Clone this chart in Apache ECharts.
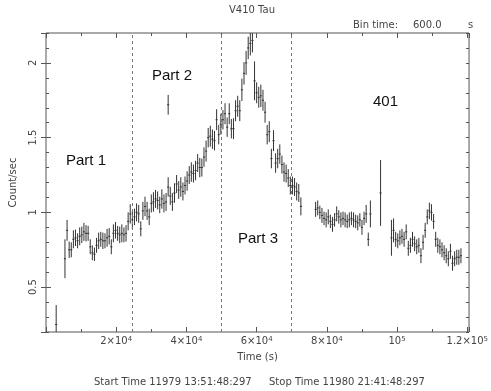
<!DOCTYPE html>
<html>
<head>
<meta charset="utf-8">
<title>V410 Tau</title>
<script src="https://cdn.jsdelivr.net/npm/echarts@6/dist/echarts.min.js"></script>
<style>
  html, body { margin: 0; padding: 0; background: #fff; }
  #chart { width: 491px; height: 391px; }
</style>
</head>
<body>
<div id="chart"></div>
<script>
const binTime = 600;

// single bins standing apart from the runs
const loneTimes = [2900, 34800, 95300];
const loneRates = [0.25, 1.72, 1.13];
const loneErrors = [0.13, 0.066, 0.22];

// run 1: rise, flare and decay (600 s bins)
const riseStart = 5400;
const riseRates = [
  0.69, 0.88, 0.75, 0.75, 0.82, 0.83, 0.81, 0.84, 0.85, 0.87,
  0.86, 0.86, 0.77, 0.73, 0.72, 0.78, 0.81, 0.82, 0.81, 0.81,
  0.83, 0.84, 0.77, 0.86, 0.88, 0.86, 0.85, 0.86, 0.85, 0.86,
  0.94, 0.99, 0.95, 0.97, 1.00, 0.99, 0.89, 1.01, 1.04, 1.01,
  0.97, 1.06, 1.07, 1.09, 1.08, 1.05, 1.09, 1.06, 1.07, 1.17,
  1.11, 1.07, 1.13, 1.19, 1.15, 1.17, 1.14, 1.18, 1.21, 1.25,
  1.27, 1.26, 1.28, 1.33, 1.30, 1.30, 1.37, 1.41, 1.50, 1.51,
  1.49, 1.48, 1.62, 1.52, 1.59, 1.62, 1.66, 1.57, 1.66, 1.56,
  1.56, 1.68, 1.71, 1.68, 1.82, 1.93, 2.00, 2.10, 2.13, 2.15,
  1.88, 1.80, 1.77, 1.78, 1.75, 1.67, 1.52, 1.54, 1.36, 1.48,
  1.33, 1.36, 1.39, 1.32, 1.27, 1.26, 1.23, 1.18, 1.18, 1.17,
  1.14, 1.13, 1.04
];
const riseErrors = [
  0.13, 0.07, 0.055, 0.05, 0.06, 0.055, 0.05, 0.06, 0.055, 0.06,
  0.055, 0.05, 0.05, 0.05, 0.045, 0.05, 0.055, 0.05, 0.055, 0.05,
  0.06, 0.055, 0.05, 0.06, 0.055, 0.05, 0.055, 0.06, 0.05, 0.055,
  0.06, 0.065, 0.06, 0.055, 0.06, 0.06, 0.05, 0.06, 0.065, 0.06,
  0.055, 0.06, 0.065, 0.06, 0.06, 0.055, 0.065, 0.06, 0.06, 0.065,
  0.06, 0.06, 0.065, 0.06, 0.06, 0.065, 0.06, 0.06, 0.065, 0.06,
  0.065, 0.06, 0.065, 0.06, 0.065, 0.06, 0.065, 0.07, 0.065, 0.07,
  0.065, 0.065, 0.07, 0.065, 0.07, 0.065, 0.07, 0.065, 0.07, 0.065,
  0.07, 0.07, 0.07, 0.07, 0.075, 0.075, 0.08, 0.075, 0.08, 0.08,
  0.13, 0.07, 0.07, 0.075, 0.07, 0.07, 0.065, 0.07, 0.065, 0.07,
  0.065, 0.065, 0.065, 0.06, 0.065, 0.06, 0.06, 0.06, 0.06, 0.06,
  0.06, 0.06, 0.06
];

// run 2: plateau after the gap
const plateauStart = 76800;
const plateauRates = [
  1.02, 1.03, 1.00, 0.98, 0.96, 0.95, 0.97, 0.94, 0.92, 0.95,
  0.99, 0.97, 0.95, 0.96, 0.95, 0.94, 0.95, 0.96, 0.95, 0.94,
  0.93, 0.95, 0.90, 0.96, 0.99, 0.82, 0.99
];
const plateauErrors = [
  0.05, 0.05, 0.045, 0.05, 0.045, 0.05, 0.05, 0.045, 0.05, 0.045,
  0.05, 0.045, 0.05, 0.045, 0.05, 0.045, 0.05, 0.045, 0.05, 0.045,
  0.05, 0.045, 0.05, 0.045, 0.06, 0.045, 0.09
];

// run 3: tail with the small second bump
const tailStart = 98400;
const tailRates = [
  0.83, 0.88, 0.82, 0.81, 0.83, 0.84, 0.82, 0.87, 0.76, 0.78,
  0.82, 0.79, 0.77, 0.78, 0.71, 0.80, 0.88, 0.97, 1.01, 1.00,
  0.94, 0.82, 0.78, 0.77, 0.75, 0.73, 0.71, 0.69, 0.74, 0.66,
  0.69, 0.70, 0.70, 0.71
];
const tailErrors = [
  0.12, 0.08, 0.05, 0.05, 0.05, 0.05, 0.05, 0.05, 0.05, 0.05,
  0.05, 0.05, 0.05, 0.05, 0.05, 0.05, 0.05, 0.05, 0.055, 0.055,
  0.05, 0.05, 0.05, 0.05, 0.05, 0.05, 0.05, 0.05, 0.05, 0.05,
  0.05, 0.05, 0.05, 0.05
];

const partBounds = [24600, 50000, 70000];
const timeTicks = [20000, 40000, 60000, 80000, 100000, 120000];
const rateTicks = [0.5, 1, 1.5, 2];

const labelFont = 'DejaVu Sans';
const labelColor = '#444';
const frameColor = '#555';

const binsFrom = (start, rates, errors) =>
  rates.map((r, i) => [start + i * binTime, r, errors[i] ?? 0.06]);

const bins = [
  ...loneTimes.map((t, i) => [t, loneRates[i], loneErrors[i]]),
  ...binsFrom(riseStart, riseRates, riseErrors),
  ...binsFrom(plateauStart, plateauRates, plateauErrors),
  ...binsFrom(tailStart, tailRates, tailErrors),
];

const timeLabel = (v) => {
  if (!timeTicks.includes(v)) return '';
  const exp = Math.floor(Math.log10(v));
  const mant = Math.round(v / Math.pow(10, exp) * 10) / 10;
  return mant === 1 ? '10{sup|' + exp + '}' : mant + '×10{sup|' + exp + '}';
};
const rateLabel = (v) => (rateTicks.some((r) => Math.abs(r - v) < 1e-6) ? String(v) : '');

const renderBin = (params, api) => {
  const t = api.value(0);
  const r = api.value(1);
  const e = api.value(2);
  const hi = api.coord([t, r + e]);
  const lo = api.coord([t, r - e]);
  const left = api.coord([t - binTime / 2, r]);
  const right = api.coord([t + binTime / 2, r]);
  const style = { stroke: '#333', lineWidth: 1 };
  return {
    type: 'group',
    children: [
      { type: 'line', shape: { x1: hi[0], y1: hi[1], x2: lo[0], y2: lo[1] }, style },
      { type: 'line', shape: { x1: left[0], y1: left[1], x2: right[0], y2: right[1] }, style },
    ],
  };
};

const tickLine = { color: frameColor, width: 1 };
const xBase = {
  type: 'value', min: 0, max: 120500, interval: 20000,
  axisLine: { show: false }, splitLine: { show: false },
  axisTick: { inside: true, length: 5, lineStyle: tickLine },
  minorTick: { show: true, splitNumber: 2, length: 3, lineStyle: tickLine },
};
const yMajor = {
  type: 'value', min: 0.2, max: 2.2, splitNumber: 4,
  axisLine: { show: false }, splitLine: { show: false },
  axisTick: { inside: true, length: 5, lineStyle: tickLine },
  axisLabel: { show: false },
};
const yMinor = {
  type: 'value', min: 0.2, max: 2.2, interval: 0.1,
  axisLine: { show: false }, splitLine: { show: false },
  axisTick: { inside: true, length: 3, lineStyle: tickLine },
  axisLabel: { show: false },
};

const textEl = (text, x, y, size, color, family, align) => ({
  type: 'text', x, y, silent: true,
  style: {
    text, fill: color, fontSize: size, fontFamily: family,
    align: align || 'left', verticalAlign: 'middle',
  },
});

const chart = echarts.init(document.getElementById('chart'), null, { renderer: 'canvas' });
chart.setOption({
  animation: false,
  backgroundColor: '#fff',
  grid: {
    left: 43, right: 17, top: 33, bottom: 59,
    show: true, borderColor: frameColor, borderWidth: 1, backgroundColor: 'transparent',
  },
  xAxis: [
    {
      ...xBase, position: 'bottom',
      name: 'Time (s)', nameLocation: 'middle', nameGap: 20,
      nameTextStyle: { fontFamily: labelFont, fontSize: 10, color: labelColor },
      axisLabel: {
        formatter: timeLabel, showMinLabel: false, showMaxLabel: false, margin: 4,
        fontFamily: labelFont, fontSize: 10, color: labelColor,
        rich: { sup: { fontFamily: labelFont, fontSize: 7, lineHeight: 8, verticalAlign: 'top', color: labelColor } },
      },
    },
    { ...xBase, position: 'top', axisLabel: { show: false } },
  ],
  yAxis: [
    {
      ...yMajor, position: 'left',
      name: 'Count/sec', nameLocation: 'middle', nameGap: 28, nameRotate: 90,
      nameTextStyle: { fontFamily: labelFont, fontSize: 10, color: labelColor },
      axisLabel: {
        show: true, formatter: rateLabel, rotate: 90, margin: 8,
        showMinLabel: false, showMaxLabel: false,
        fontFamily: labelFont, fontSize: 10, color: labelColor,
      },
    },
    { ...yMajor, position: 'right' },
    { ...yMinor, position: 'left' },
    { ...yMinor, position: 'right' },
  ],
  series: [
    {
      type: 'custom',
      renderItem: renderBin,
      data: bins,
      encode: { x: 0, y: 1 },
      clip: true,
      silent: true,
    },
    {
      type: 'line',
      data: [],
      silent: true,
      markLine: {
        silent: true,
        symbol: 'none',
        label: { show: false },
        lineStyle: { color: '#777', width: 1, type: [3, 3] },
        data: partBounds.map((t) => ({ xAxis: t })),
      },
    },
  ],
  graphic: [
    textEl('V410 Tau', 252, 10, 10, labelColor, labelFont, 'center'),
    textEl('Bin time:', 353, 25, 10, labelColor, labelFont),
    textEl('600.0', 413, 25, 10, labelColor, labelFont),
    textEl('s', 468, 25, 10, labelColor, labelFont),
    textEl('Part 1', 66, 161, 15, '#111', 'Liberation Sans'),
    textEl('Part 2', 152, 76, 15, '#111', 'Liberation Sans'),
    textEl('Part 3', 238, 239, 15, '#111', 'Liberation Sans'),
    textEl('401', 373, 102, 15, '#111', 'Liberation Sans'),
    textEl('Start Time 11979 13:51:48:297', 94, 382, 10, labelColor, labelFont),
    textEl('Stop Time 11980 21:41:48:297', 269, 382, 10, labelColor, labelFont),
  ],
});
</script>
</body>
</html>
